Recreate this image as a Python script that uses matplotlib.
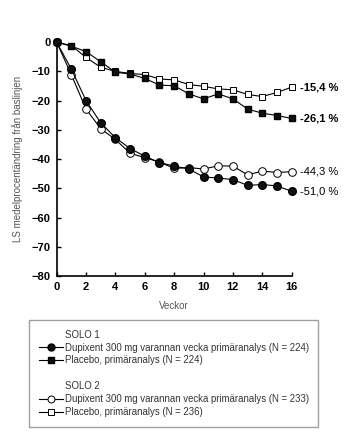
import matplotlib.pyplot as plt
from matplotlib.lines import Line2D

plt.rcParams['font.family'] = ['Liberation Sans', 'DejaVu Sans']

# data
weeks = list(range(17))
solo1_dupixent = [0, -9.2, -20.0, -27.6, -32.7, -36.4, -39.0, -41.2, -42.4, -43.4,
                  -46.1, -46.5, -47.0, -49.0, -48.7, -49.2, -51.0]
solo2_dupixent = [0, -11.1, -22.9, -29.6, -33.3, -38.0, -39.5, -41.0, -43.2, -42.9,
                  -43.4, -42.3, -42.4, -45.4, -44.1, -44.6, -44.3]
solo1_placebo = [0, -1.4, -3.2, -6.7, -10.3, -10.9, -12.4, -14.7, -14.9, -17.7,
                 -19.4, -17.7, -19.4, -22.9, -24.3, -25.1, -26.1]
solo2_placebo = [0, -1.2, -5.2, -8.6, -10.0, -10.7, -11.1, -12.6, -12.9, -14.5,
                 -15.1, -16.0, -16.3, -17.9, -18.6, -17.2, -15.4]

end_labels = ["-15,4 %", "-26,1 %", "-44,3 %", "-51,0 %"]

fig = plt.figure(figsize=(3.54, 4.42), dpi=100)
ax = fig.add_axes([0.160, 0.3756, 0.664, 0.529])

ms = 5
lw = 0.8
# open markers first, filled on top
ax.plot(weeks, solo2_placebo, color='k', lw=lw, marker='s', ms=ms, mfc='white', mec='k', mew=0.7, clip_on=False, zorder=3)
ax.plot(weeks, solo1_placebo, color='k', lw=lw, marker='s', ms=ms, mfc='#111111', mec='k', clip_on=False, zorder=4)
ax.plot(weeks, solo2_dupixent, color='k', lw=lw, marker='o', ms=ms + 0.5, mfc='white', mec='k', mew=0.7, clip_on=False, zorder=3)
ax.plot(weeks, solo1_dupixent, color='k', lw=lw, marker='o', ms=ms + 0.5, mfc='#111111', mec='k', clip_on=False, zorder=4)

# end-of-line labels
ends = [solo2_placebo, solo1_placebo, solo2_dupixent, solo1_dupixent]
weights = ['bold', 'bold', 'normal', 'normal']
for series, lab, w in zip(ends, end_labels, weights):
    ax.annotate(lab, xy=(weeks[-1], series[-1]), xytext=(6, 0), textcoords='offset points',
                va='center', ha='left', fontsize=8, fontweight=w, annotation_clip=False)

ax.set_xlim(0, 16)
ax.set_ylim(-80, 0)
ax.set_xticks(range(0, 17, 2))
ax.set_yticks(range(-80, 1, 10))
ax.spines['top'].set_visible(False)
ax.spines['right'].set_visible(False)
ax.spines['left'].set_linewidth(1.2)
ax.spines['bottom'].set_linewidth(1.2)
ax.tick_params(direction='in', length=3, width=1, labelsize=8, pad=4.5)
for t in ax.get_xticklabels() + ax.get_yticklabels():
    t.set_fontweight('bold')

ax.set_xlabel("Veckor", fontsize=7, color='#555555', labelpad=6)
ax.set_ylabel("LS medelprocentändring från baslinjen", fontsize=7, color='#555555', labelpad=6)

# legend
handles = [
    Line2D([], [], color='none', label="SOLO 1"),
    Line2D([], [], color='k', lw=lw, marker='o', ms=ms, mfc='#111111', mec='k',
           label="Dupixent 300 mg varannan vecka primäranalys (N = 224)"),
    Line2D([], [], color='k', lw=lw, marker='s', ms=ms, mfc='#111111', mec='k',
           label="Placebo, primäranalys (N = 224)"),
    Line2D([], [], color='none', label=" "),
    Line2D([], [], color='none', label="SOLO 2"),
    Line2D([], [], color='k', lw=lw, marker='o', ms=ms, mfc='white', mec='k', mew=0.7,
           label="Dupixent 300 mg varannan vecka primäranalys (N = 233)"),
    Line2D([], [], color='k', lw=lw, marker='s', ms=ms, mfc='white', mec='k', mew=0.7,
           label="Placebo, primäranalys (N = 236)"),
]
leg = fig.legend(handles=handles, loc='upper left', bbox_to_anchor=(29.3 / 354, 1 - 320 / 442),
                 fontsize=6.95, frameon=True, fancybox=False, edgecolor='#888888',
                 handlelength=2.5, handletextpad=0.15, labelspacing=0.3, borderpad=1.0,
                 borderaxespad=0)
leg.get_frame().set_linewidth(1.0)
for t in leg.get_texts():
    t.set_color('#333333')

plt.savefig("out.png", dpi=100)
